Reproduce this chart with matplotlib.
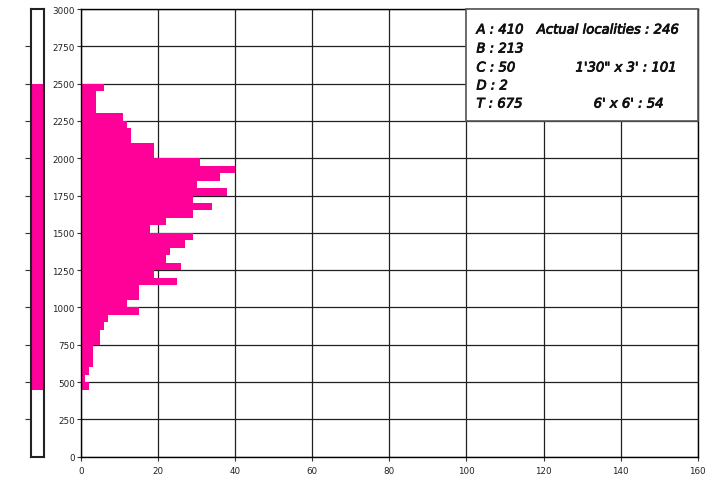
import matplotlib
matplotlib.use("Agg")
import matplotlib.pyplot as plt
from matplotlib.patches import Rectangle
import matplotlib.patheffects as pe
import numpy as np

# Histogram of elevations (bins of 50, from 450 to 2500)
bin_starts = list(range(450, 2500, 50))
counts = [2, 1, 2, 3, 3, 3, 5, 5, 6, 7,
          15, 12, 15, 15, 25, 19, 26, 22, 23, 27,
          29, 18, 22, 29, 34, 29, 38, 30, 36, 40,
          31, 19, 19, 13, 13, 12, 11, 4, 4, 4, 6]
bin_width = 50
range_low, range_high = 450, 2500

x_ticks = [0, 20, 40, 60, 80, 100, 120, 140, 160]
y_ticks = [0, 250, 500, 750, 1000, 1250, 1500, 1750, 2000, 2250, 2500, 2750, 3000]

legend_left = ["A : 410", "B : 213", "C : 50", "D : 2", "T : 675"]
legend_right = {0: "Actual localities : 246", 2: "1'30\" x 3' : 101", 4: "6' x 6' : 54"}

pink = "#FF0099"
W, H = 720, 481
fig = plt.figure(figsize=(7.2, 4.81), dpi=100)

# main axes
ax = fig.add_axes([81 / W, (H - 457.7) / H, (697.7 - 81) / W, (457.7 - 10) / H])
ax.barh(bin_starts, counts, height=bin_width, align="edge", color=pink, zorder=2, linewidth=0)
ax.set_xlim(0, 160)
ax.set_ylim(0, 3000)
ax.set_xticks(x_ticks)
ax.set_yticks(y_ticks)
ax.tick_params(axis="both", labelsize=6.3, colors="#333333", length=3, width=0.8, direction="out")
ax.tick_params(axis="x", pad=4)
ax.tick_params(axis="y", pad=1.5)
for lbl in ax.get_xticklabels() + ax.get_yticklabels():
    lbl.set_color("#222222")
ax.grid(True, color="#202020", linewidth=0.9, zorder=1)
ax.set_axisbelow(True)
for s in ax.spines.values():
    s.set_linewidth(1.0)
    s.set_color("black")

# legend box
ax.add_patch(Rectangle((100, 2250), 60, 750, facecolor="white", edgecolor="#555555",
                       linewidth=1.2, zorder=3, clip_on=False))
ytxt = [2859, 2732, 2605, 2484, 2363]
fkw = dict(fontsize=9.5, style="italic", weight="normal", color="#111111", zorder=4,
           va="center", family="DejaVu Sans",
           path_effects=[pe.withStroke(linewidth=0.6, foreground="#111111")])
for i, t in enumerate(legend_left):
    ax.text(102.6, ytxt[i], t, ha="left", **fkw)
right_x = {0: 155.2, 2: 154.6, 4: 151.2}
for i, t in legend_right.items():
    ax.text(right_x[i], ytxt[i], t, ha="right", **fkw)

# left narrow bar showing range
ax2 = fig.add_axes([30.5 / W, (H - 457.7) / H, 13.5 / W, (457.7 - 10) / H])
ax2.set_xlim(0, 1)
ax2.set_ylim(0, 3000)
ax2.barh([range_low], [1], height=range_high - range_low, align="edge", color=pink, linewidth=0)
ax2.set_xticks([])
ax2.set_yticks(y_ticks[1:-1])
ax2.set_yticklabels([])
ax2.tick_params(axis="y", length=4, width=0.8, direction="out", colors="#333333")
for s in ax2.spines.values():
    s.set_linewidth(1.5)
    s.set_color("#222222")

fig.savefig("out.png", dpi=100)
